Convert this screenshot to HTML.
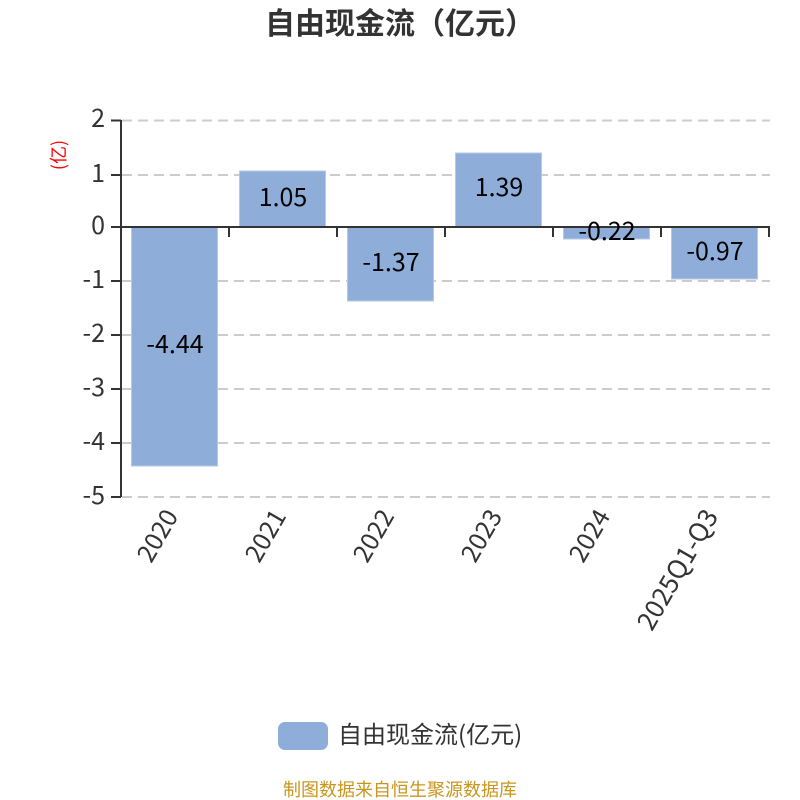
<!DOCTYPE html>
<html><head><meta charset="utf-8"><style>
html,body{margin:0;padding:0;background:#fff}
svg{display:block}
text{font-family:"Liberation Sans","Noto Sans CJK SC",sans-serif}
.n{font-family:"Noto Sans CJK SC","Liberation Sans",sans-serif}
</style></head><body>
<svg width="800" height="800" viewBox="0 0 800 800" xmlns="http://www.w3.org/2000/svg">
<rect width="800" height="800" fill="#fff"/>
<text class="n" x="400" y="34" text-anchor="middle" font-size="30" font-weight="700" fill="#333">自由现金流（亿元）</text>
<g stroke="#ccc" stroke-width="2" stroke-dasharray="10 6" fill="none">
<path d="M122 120.5H770M122 175H770M122 281H770M122 335H770M122 389H770M122 443H770M122 497H770"/>
</g>
<g fill="#8eadd9" stroke="#b5c9e6" stroke-width="1">
<rect x="131.5" y="227" width="86" height="239"/>
<rect x="239.5" y="171" width="86" height="56"/>
<rect x="347.5" y="227" width="86" height="74"/>
<rect x="455.5" y="153" width="86" height="74"/>
<rect x="563.5" y="227" width="86" height="12"/>
<rect x="671.5" y="227" width="86" height="52"/>
</g>
<g stroke="#333" stroke-width="2" fill="none">
<path d="M121 120V497"/>
<path d="M111 120.5H121M111 175H121M111 227H121M111 281H121M111 335H121M111 389H121M111 443H121M111 497H121"/>
<path d="M121 227H770"/>
<path d="M229 227V237M337 227V237M445 227V237M553 227V237M661 227V237M769 227V237"/>
</g>
<g class="n" font-size="25" fill="#333" text-anchor="end">
<text class="n" x="105" y="127">2</text>
<text class="n" x="105" y="182">1</text>
<text class="n" x="105" y="234">0</text>
<text class="n" x="105" y="288">-1</text>
<text class="n" x="105" y="342">-2</text>
<text class="n" x="105" y="396">-3</text>
<text class="n" x="105" y="450">-4</text>
<text class="n" x="105" y="504">-5</text>
</g>
<text class="n" transform="translate(65 155) rotate(-90)" text-anchor="middle" font-size="18" fill="#f00">(亿)</text>
<g font-size="25" fill="#000" text-anchor="middle">
<text class="n" x="175" y="353">-4.44</text>
<text class="n" x="283" y="206">1.05</text>
<text class="n" x="391" y="271">-1.37</text>
<text class="n" x="499" y="196">1.39</text>
<text class="n" x="607" y="240">-0.22</text>
<text class="n" x="715" y="260">-0.97</text>
</g>
<g font-size="25" fill="#333" text-anchor="end">
<text class="n" transform="translate(179 516) rotate(-60)">2020</text>
<text class="n" transform="translate(287 516) rotate(-60)">2021</text>
<text class="n" transform="translate(395 516) rotate(-60)">2022</text>
<text class="n" transform="translate(503 516) rotate(-60)">2023</text>
<text class="n" transform="translate(611 516) rotate(-60)">2024</text>
<text class="n" transform="translate(719 516) rotate(-60)" font-size="26">2025Q1-Q3</text>
</g>
<rect x="278" y="722" width="50" height="28" rx="7" fill="#8eadd9"/>
<text class="n" x="338" y="743" font-size="24" fill="#333">自由现金流(亿元)</text>
<text class="n" x="400" y="796" text-anchor="middle" font-size="18" fill="#c8961e">制图数据来自恒生聚源数据库</text>
</svg>
</body></html>
